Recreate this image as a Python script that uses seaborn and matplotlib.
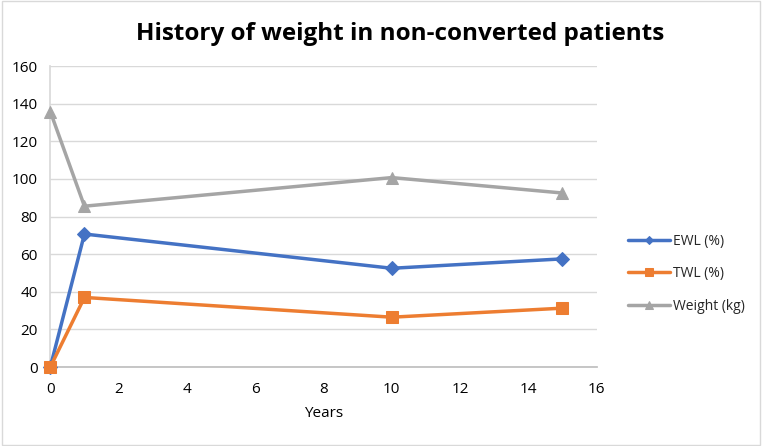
import matplotlib
import numpy as np
import pandas as pd

matplotlib.use("Agg")

import matplotlib.pyplot as plt
import seaborn as sns

# Values
years = [0, 1, 10, 15]
ewl = [0, 70.7, 52.5, 57.5]
twl = [0, 37.0, 26.5, 31.3]
weight = [135.8, 85.5, 100.7, 92.5]

series_names = ["EWL (%)", "TWL (%)", "Weight (kg)"]
series_colors = ["#4472C4", "#ED7D31", "#A5A5A5"]
series_markers = ["D", "s", "^"]
marker_sizes = [7, 9, 9]


def main() -> None:
    sns.set_theme(style="white")
    plt.rcParams["font.family"] = ["Open Sans", "DejaVu Sans"]

    df = pd.DataFrame(
        {
            "Years": years * 3,
            "value": ewl + twl + weight,
            "series": np.repeat(series_names, len(years)),
        }
    )

    fig = plt.figure(figsize=(7.62, 4.46), dpi=100)
    ax = fig.add_axes([0.066, 0.177, 0.717, 0.675])

    for name, color, marker, ms in zip(series_names, series_colors, series_markers, marker_sizes):
        sub = df[df["series"] == name]
        sns.lineplot(
            data=sub, x="Years", y="value", ax=ax, color=color, marker=marker,
            markersize=ms, markeredgecolor=color, linewidth=2.5, label=name,
            clip_on=False, zorder=3,
        )

    ax.set_xlim(0, 16)
    ax.set_ylim(0, 160)
    ax.set_xticks(range(0, 17, 2))
    ax.set_yticks(range(0, 161, 20))
    ax.yaxis.grid(True, color="#d9d9d9", linewidth=1)
    ax.set_axisbelow(True)
    ax.tick_params(axis="both", labelsize=11, colors="#404040")
    ax.tick_params(axis="x", length=4, color="#bfbfbf", width=1, direction="out", pad=7)
    ax.tick_params(axis="y", length=0, pad=9)
    for side in ["top", "right"]:
        ax.spines[side].set_visible(False)
    ax.spines["left"].set_color("#d9d9d9")
    ax.spines["bottom"].set_color("#bfbfbf")
    ax.set_xlabel("Years", fontsize=11, color="#000000", labelpad=6)
    ax.set_ylabel("")
    for lbl in ax.get_xticklabels() + ax.get_yticklabels():
        lbl.set_color("#000000")

    fig.suptitle(
        "History of weight in non-converted patients", x=0.525, y=0.95,
        fontsize=17.5, fontweight="bold", color="#000000",
    )

    ax.legend(
        loc="center left", bbox_to_anchor=(1.035, 0.31), frameon=False,
        fontsize=10, handlelength=3.0, labelspacing=1.25, handletextpad=0.2,
        markerscale=0.6,
    )

    fig.patches.append(
        plt.Rectangle((0.002, 0.002), 0.996, 0.996, transform=fig.transFigure,
                      fill=False, edgecolor="#d9d9d9", linewidth=1)
    )

    fig.savefig("out.png", dpi=100)
    plt.close(fig)


if __name__ == "__main__":
    main()
